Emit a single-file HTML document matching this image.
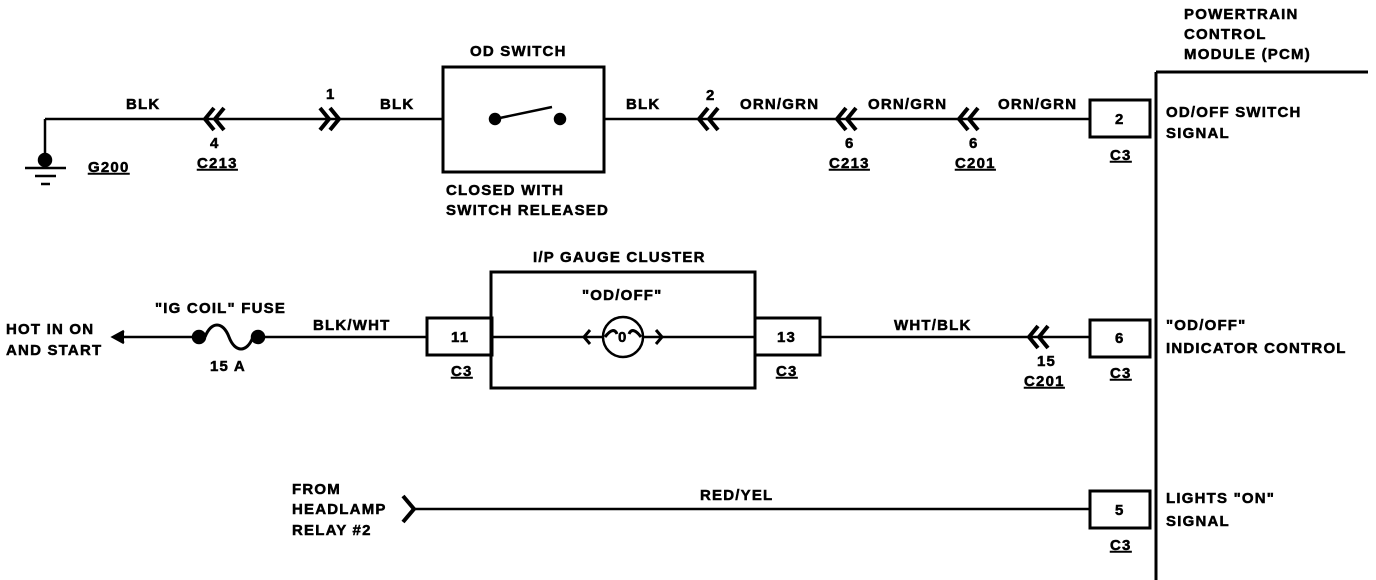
<!DOCTYPE html><html><head><style>body{margin:0;background:#fff}svg{display:block}text{font-family:"Liberation Sans",sans-serif;font-weight:bold;font-size:15px;letter-spacing:1.2px;fill:#000;stroke:#000;stroke-width:0.5px}</style></head><body>
<svg width="1376" height="580" viewBox="0 0 1376 580" xmlns="http://www.w3.org/2000/svg" stroke="#000" fill="none" stroke-width="2.5">
<!-- Row 1 -->
<path d="M45 119H443M604 119H1090"/>
<path d="M45 119V160"/><circle cx="45" cy="160" r="6" fill="#000"/>
<path d="M25 168H66M35 176H56M41 184H50"/>
<g stroke-width="4"><path d="M214 108l-9 11 9 11M224 108l-9 11 9 11"/>
<path d="M320 108l9 11-9 11M330 108l9 11-9 11"/>
<path d="M708 108l-9 11 9 11M718 108l-9 11 9 11"/>
<path d="M846 108l-9 11 9 11M856 108l-9 11 9 11"/>
<path d="M968 108l-9 11 9 11M978 108l-9 11 9 11"/>
<path d="M1038 326l-9 11 9 11M1048 326l-9 11 9 11"/>
<path d="M403 496l11 13-11 13"/></g>
<rect x="443" y="67" width="161" height="105" stroke-width="3"/>
<circle cx="495" cy="119" r="5" fill="#000"/><circle cx="560" cy="119" r="5" fill="#000"/>
<path d="M495 119L552 107"/>
<!-- PCM -->
<path d="M1156 72V580M1156 72H1368" stroke-width="3"/>
<rect x="1090" y="100" width="60" height="37" stroke-width="3"/>
<rect x="1090" y="320" width="60" height="37" stroke-width="3"/>
<rect x="1090" y="491" width="60" height="37" stroke-width="3"/>
<!-- Row 2 -->
<path d="M115 337H198M258 337H427M492 337H603M643 337H755M820 337H1090"/>
<path d="M124 331l-11 6 11 6" fill="#000"/>
<circle cx="199" cy="337" r="6" fill="#000"/><circle cx="258" cy="337" r="6" fill="#000"/>
<path d="M205 337c6-16 18-16 24 0s18 16 24 0" stroke-width="3"/>
<rect x="427" y="318" width="65" height="37" stroke-width="3"/>
<rect x="491" y="272" width="264" height="116" stroke-width="3"/>
<rect x="755" y="318" width="65" height="37" stroke-width="3"/>
<circle cx="623" cy="337" r="20"/>
<path d="M590 330l-6 7 6 7M656 330l6 7-6 7M605 337c6-8 10-8 12-3M629 334c2-5 6-5 12 3" stroke-width="3"/>
<!-- Row 3 -->
<path d="M413 509H1090"/>
<g stroke="none">
<text x="126" y="109">BLK</text><text x="210" y="148" font-size="13">4</text>
<text x="197" y="168" text-decoration="underline">C213</text>
<text x="88" y="172" text-decoration="underline">G200</text>
<text x="326" y="99" font-size="13">1</text><text x="380" y="109">BLK</text>
<text x="470" y="56">OD SWITCH</text>
<text x="446" y="195">CLOSED WITH</text><text x="446" y="215">SWITCH RELEASED</text>
<text x="626" y="109">BLK</text><text x="706" y="100" font-size="13">2</text>
<text x="740" y="109">ORN/GRN</text><text x="868" y="109">ORN/GRN</text><text x="998" y="109">ORN/GRN</text>
<text x="845" y="148" font-size="13">6</text><text x="829" y="168" text-decoration="underline">C213</text>
<text x="969" y="148" font-size="13">6</text><text x="955" y="168" text-decoration="underline">C201</text>
<text x="1115" y="124">2</text><text x="1110" y="160" text-decoration="underline">C3</text>
<text x="1184" y="19">POWERTRAIN</text><text x="1184" y="39">CONTROL</text><text x="1184" y="59">MODULE (PCM)</text>
<text x="1166" y="117">OD/OFF SWITCH</text><text x="1166" y="138">SIGNAL</text>
<text x="6" y="334">HOT IN ON</text><text x="6" y="355">AND START</text>
<text x="155" y="313">"IG COIL" FUSE</text><text x="210" y="371">15 A</text>
<text x="313" y="330">BLK/WHT</text>
<text x="451" y="342">11</text><text x="451" y="376" text-decoration="underline">C3</text>
<text x="533" y="262">I/P GAUGE CLUSTER</text><text x="582" y="300">"OD/OFF"</text>
<text x="618" y="342" font-size="12">0</text>
<text x="777" y="342">13</text><text x="776" y="376" text-decoration="underline">C3</text>
<text x="894" y="330">WHT/BLK</text>
<text x="1037" y="366" font-size="13">15</text><text x="1024" y="386" text-decoration="underline">C201</text>
<text x="1115" y="343">6</text><text x="1110" y="378" text-decoration="underline">C3</text>
<text x="1166" y="330">"OD/OFF"</text><text x="1166" y="353">INDICATOR CONTROL</text>
<text x="292" y="494">FROM</text><text x="292" y="514">HEADLAMP</text><text x="292" y="535">RELAY #2</text>
<text x="700" y="500">RED/YEL</text>
<text x="1115" y="515">5</text><text x="1110" y="550" text-decoration="underline">C3</text>
<text x="1166" y="503">LIGHTS "ON"</text><text x="1166" y="526">SIGNAL</text>
</g>
</svg></body></html>
